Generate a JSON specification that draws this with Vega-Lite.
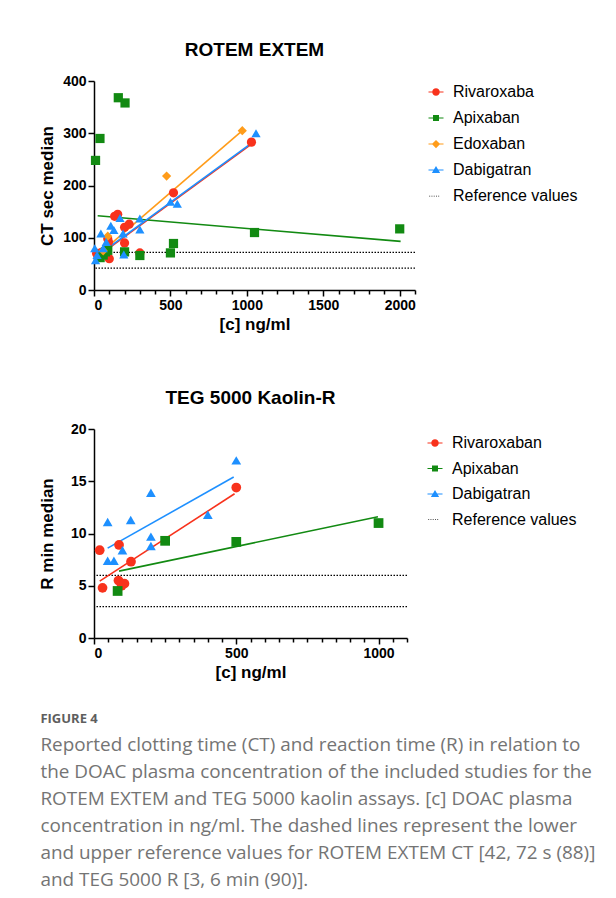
{
  "$schema": "https://vega.github.io/schema/vega-lite/v6.json",
  "padding": {"left": 38, "top": 41, "right": 5, "bottom": 5},
  "background": "white",
  "config": {
    "font": "Liberation Sans",
    "view": {"stroke": null},
    "axis": {
      "domainColor": "black", "domainWidth": 1.5, "tickColor": "black", "tickWidth": 1.5, "tickSize": 6,
      "labelFont": "Liberation Sans", "labelFontSize": 14, "labelFontWeight": "bold", "labelColor": "black", "labelPadding": 2,
      "titleFont": "Liberation Sans", "titleFontSize": 17, "titleFontWeight": "bold", "titleColor": "black", "grid": false
    },
    "title": {"font": "Liberation Sans", "fontSize": 19, "fontWeight": "bold", "color": "black"},
    "legend": {"labelFont": "Liberation Sans", "labelFontSize": 16, "labelColor": "black", "labelOffset": 9, "padding": 3}
  },
  "title": {
    "text": "FIGURE 4",
    "subtitle": [
      "Reported clotting time (CT) and reaction time (R) in relation to",
      "the DOAC plasma concentration of the included studies for the",
      "ROTEM EXTEM and TEG 5000 kaolin assays. [c] DOAC plasma",
      "concentration in ng/ml. The dashed lines represent the lower",
      "and upper reference values for ROTEM EXTEM CT [42, 72 s (88)]",
      "and TEG 5000 R [3, 6 min (90)]."
    ],
    "orient": "bottom", "anchor": "start", "frame": "bounds", "offset": 33, "dx": 2,
    "font": "Open Sans", "fontSize": 13, "fontWeight": "bold", "color": "#5e5e5e",
    "subtitleFont": "Open Sans", "subtitleFontSize": 18.9, "subtitleColor": "#747474", "subtitleLineHeight": 27, "subtitlePadding": 10
  },
  "datasets": {
    "rotem_points": [
      {"drug": "Rivaroxaban", "conc": 17, "value": 70}, {"drug": "Rivaroxaban", "conc": 35, "value": 70},
      {"drug": "Rivaroxaban", "conc": 50, "value": 72}, {"drug": "Rivaroxaban", "conc": 90, "value": 98},
      {"drug": "Rivaroxaban", "conc": 95, "value": 92}, {"drug": "Rivaroxaban", "conc": 100, "value": 60},
      {"drug": "Rivaroxaban", "conc": 135, "value": 141}, {"drug": "Rivaroxaban", "conc": 155, "value": 145},
      {"drug": "Rivaroxaban", "conc": 200, "value": 120}, {"drug": "Rivaroxaban", "conc": 230, "value": 126},
      {"drug": "Rivaroxaban", "conc": 200, "value": 90}, {"drug": "Rivaroxaban", "conc": 300, "value": 71},
      {"drug": "Rivaroxaban", "conc": 520, "value": 186}, {"drug": "Rivaroxaban", "conc": 1030, "value": 283},
      {"drug": "Apixaban", "conc": 10, "value": 248}, {"drug": "Apixaban", "conc": 39, "value": 290},
      {"drug": "Apixaban", "conc": 159, "value": 368}, {"drug": "Apixaban", "conc": 203, "value": 358},
      {"drug": "Apixaban", "conc": 1050, "value": 110}, {"drug": "Apixaban", "conc": 2000, "value": 117},
      {"drug": "Apixaban", "conc": 200, "value": 73}, {"drug": "Apixaban", "conc": 300, "value": 66},
      {"drug": "Apixaban", "conc": 500, "value": 71}, {"drug": "Apixaban", "conc": 520, "value": 89},
      {"drug": "Apixaban", "conc": 90, "value": 76}, {"drug": "Apixaban", "conc": 60, "value": 67},
      {"drug": "Apixaban", "conc": 40, "value": 62}, {"drug": "Apixaban", "conc": 75, "value": 73},
      {"drug": "Edoxaban", "conc": 60, "value": 75}, {"drug": "Edoxaban", "conc": 90, "value": 103},
      {"drug": "Edoxaban", "conc": 475, "value": 218}, {"drug": "Edoxaban", "conc": 970, "value": 305},
      {"drug": "Dabigatran", "conc": 5, "value": 80}, {"drug": "Dabigatran", "conc": 10, "value": 57},
      {"drug": "Dabigatran", "conc": 20, "value": 67}, {"drug": "Dabigatran", "conc": 45, "value": 108},
      {"drug": "Dabigatran", "conc": 60, "value": 80}, {"drug": "Dabigatran", "conc": 80, "value": 92},
      {"drug": "Dabigatran", "conc": 110, "value": 123}, {"drug": "Dabigatran", "conc": 130, "value": 115},
      {"drug": "Dabigatran", "conc": 170, "value": 138}, {"drug": "Dabigatran", "conc": 190, "value": 108},
      {"drug": "Dabigatran", "conc": 195, "value": 68}, {"drug": "Dabigatran", "conc": 300, "value": 137},
      {"drug": "Dabigatran", "conc": 300, "value": 116}, {"drug": "Dabigatran", "conc": 500, "value": 169},
      {"drug": "Dabigatran", "conc": 545, "value": 165}, {"drug": "Dabigatran", "conc": 1060, "value": 300}
    ],
    "rotem_fits": [
      {"drug": "Rivaroxaban", "conc": 60, "value": 72}, {"drug": "Rivaroxaban", "conc": 1030, "value": 279},
      {"drug": "Apixaban", "conc": 24, "value": 142}, {"drug": "Apixaban", "conc": 2006, "value": 93},
      {"drug": "Edoxaban", "conc": 61, "value": 76}, {"drug": "Edoxaban", "conc": 974, "value": 306},
      {"drug": "Dabigatran", "conc": 10, "value": 63}, {"drug": "Dabigatran", "conc": 1035, "value": 282}
    ],
    "rotem_refs": [
      {"drug": "Reference values", "value": 72}, {"drug": "Reference values", "value": 42}
    ],
    "teg_points": [
      {"drug": "Rivaroxaban", "conc": 20, "value": 8.4}, {"drug": "Rivaroxaban", "conc": 30, "value": 4.8},
      {"drug": "Rivaroxaban", "conc": 88, "value": 8.9}, {"drug": "Rivaroxaban", "conc": 86, "value": 5.5},
      {"drug": "Rivaroxaban", "conc": 97, "value": 5.0}, {"drug": "Rivaroxaban", "conc": 107, "value": 5.2},
      {"drug": "Rivaroxaban", "conc": 130, "value": 7.3}, {"drug": "Rivaroxaban", "conc": 500, "value": 14.4},
      {"drug": "Apixaban", "conc": 83, "value": 4.5}, {"drug": "Apixaban", "conc": 250, "value": 9.3},
      {"drug": "Apixaban", "conc": 500, "value": 9.2}, {"drug": "Apixaban", "conc": 1000, "value": 11.0},
      {"drug": "Dabigatran", "conc": 48, "value": 11.1}, {"drug": "Dabigatran", "conc": 48, "value": 7.4},
      {"drug": "Dabigatran", "conc": 70, "value": 7.4}, {"drug": "Dabigatran", "conc": 100, "value": 8.4},
      {"drug": "Dabigatran", "conc": 129, "value": 11.3}, {"drug": "Dabigatran", "conc": 200, "value": 13.9},
      {"drug": "Dabigatran", "conc": 200, "value": 9.7}, {"drug": "Dabigatran", "conc": 200, "value": 8.8},
      {"drug": "Dabigatran", "conc": 400, "value": 11.8}, {"drug": "Dabigatran", "conc": 500, "value": 17.0}
    ],
    "teg_fits": [
      {"drug": "Rivaroxaban", "conc": 20, "value": 5.45}, {"drug": "Rivaroxaban", "conc": 494, "value": 13.8},
      {"drug": "Apixaban", "conc": 88, "value": 6.4}, {"drug": "Apixaban", "conc": 998, "value": 11.6},
      {"drug": "Dabigatran", "conc": 48, "value": 8.6}, {"drug": "Dabigatran", "conc": 491, "value": 15.4}
    ],
    "teg_refs": [
      {"drug": "Reference values", "value": 6}, {"drug": "Reference values", "value": 3}
    ]
  },
  "columns": 1,
  "spacing": 57,
  "align": "none",
  "resolve": {"scale": {"color": "independent", "shape": "independent", "x": "independent", "y": "independent"}, "legend": {"color": "independent"}},
  "concat": [
    {
      "title": {"text": "ROTEM EXTEM", "offset": 14},
      "width": 321, "height": 209,
      "resolve": {"axis": {"x": "independent"}},
      "layer": [
        {
          "data": {"name": "rotem_refs"},
          "mark": {"type": "rule", "strokeDash": [1.5, 1.5], "strokeWidth": 1.2},
          "encoding": {
            "y": {"field": "value", "type": "quantitative"},
            "color": {"field": "drug", "type": "nominal"}
          }
        },
        {
          "data": {"name": "rotem_fits"},
          "mark": {"type": "line", "strokeWidth": 1.6},
          "encoding": {
            "x": {"field": "conc", "type": "quantitative", "scale": {"domain": [0, 2100], "nice": false},
                  "axis": {"title": "[c] ng/ml", "titlePadding": 4, "format": "d", "values": [0, 500, 1000, 1500, 2000]}},
            "y": {"field": "value", "type": "quantitative", "scale": {"domain": [0, 400], "nice": false},
                  "axis": {"title": "CT sec median", "values": [0, 100, 200, 300, 400], "titlePadding": 6}},
            "color": {
              "field": "drug", "type": "nominal",
              "scale": {"domain": ["Rivaroxaban", "Apixaban", "Edoxaban", "Dabigatran", "Reference values"],
                        "range": ["#f8321c", "#128a12", "#ff9c1a", "#1e90ff", "black"]},
              "legend": {
                "title": null, "orient": "right", "offset": 10, "rowPadding": 10,
                "labelExpr": "datum.label === 'Rivaroxaban' ? 'Rivaroxaba' : datum.label",
                "encode": {"symbols": {"update": {
                  "size": {"value": 225},
                  "strokeWidth": {"value": 0},
                  "opacity": {"value": 1},
                  "fill": {"signal": "datum.value === 'Rivaroxaban' ? '#f8321c' : datum.value === 'Apixaban' ? '#128a12' : datum.value === 'Edoxaban' ? '#ff9c1a' : datum.value === 'Dabigatran' ? '#1e90ff' : '#222222'"},
                  "shape": {"signal": "datum.value === 'Rivaroxaban' ? 'M -1 -0.07 H 1 V 0.07 H -1 Z M -0.5 0 A 0.5 0.5 0 1 1 0.5 0 A 0.5 0.5 0 1 1 -0.5 0 Z' : datum.value === 'Apixaban' ? 'M -1 -0.07 H 1 V 0.07 H -1 Z M -0.4 -0.4 H 0.4 V 0.4 H -0.4 Z' : datum.value === 'Edoxaban' ? 'M -1 -0.07 H 1 V 0.07 H -1 Z M 0 -0.55 L 0.55 0 L 0 0.55 L -0.55 0 Z' : datum.value === 'Dabigatran' ? 'M -1 -0.07 H 1 V 0.07 H -1 Z M 0 -0.55 L 0.55 0.4 L -0.55 0.4 Z' : 'M -0.9 -0.05 h 0.12 v 0.1 h -0.12 Z M -0.6 -0.05 h 0.12 v 0.1 h -0.12 Z M -0.3 -0.05 h 0.12 v 0.1 h -0.12 Z M 0 -0.05 h 0.12 v 0.1 h -0.12 Z M 0.3 -0.05 h 0.12 v 0.1 h -0.12 Z'"}
                }}}
              }
            },
            "detail": {"field": "drug"}
          }
        },
        {
          "data": {"name": "rotem_points"},
          "mark": {"type": "point", "filled": true, "opacity": 1, "size": 85},
          "encoding": {
            "x": {"field": "conc", "type": "quantitative",
                  "axis": {"orient": "bottom", "labels": false, "title": null, "domain": false, "grid": false, "tickSize": 4, "tickWidth": 1.5,
                           "values": [100, 200, 300, 400, 600, 700, 800, 900, 1100, 1200, 1300, 1400, 1600, 1700, 1800, 1900, 2100]}},
            "y": {"field": "value", "type": "quantitative"},
            "color": {"field": "drug", "type": "nominal"},
            "shape": {"field": "drug", "type": "nominal", "legend": null,
                      "scale": {"domain": ["Rivaroxaban", "Apixaban", "Edoxaban", "Dabigatran"], "range": ["circle", "square", "diamond", "triangle-up"]}}
          }
        }
      ]
    },
    {
      "title": {"text": "TEG 5000 Kaolin-R", "offset": 14},
      "width": 313, "height": 209,
      "resolve": {"axis": {"x": "independent"}},
      "layer": [
        {
          "data": {"name": "teg_refs"},
          "mark": {"type": "rule", "strokeDash": [1.5, 1.5], "strokeWidth": 1.2},
          "encoding": {
            "y": {"field": "value", "type": "quantitative"},
            "color": {"field": "drug", "type": "nominal"}
          }
        },
        {
          "data": {"name": "teg_fits"},
          "mark": {"type": "line", "strokeWidth": 1.6},
          "encoding": {
            "x": {"field": "conc", "type": "quantitative", "scale": {"domain": [0, 1100], "nice": false},
                  "axis": {"title": "[c] ng/ml", "titlePadding": 4, "format": "d", "values": [0, 500, 1000]}},
            "y": {"field": "value", "type": "quantitative", "scale": {"domain": [0, 20], "nice": false},
                  "axis": {"title": "R min median", "values": [0, 5, 10, 15, 20], "titlePadding": 14}},
            "color": {
              "field": "drug", "type": "nominal",
              "scale": {"domain": ["Rivaroxaban", "Apixaban", "Dabigatran", "Reference values"],
                        "range": ["#f8321c", "#128a12", "#1e90ff", "black"]},
              "legend": {
                "title": null, "orient": "right", "offset": 14, "rowPadding": 9.5, "padding": 6,
                "encode": {"symbols": {"update": {
                  "size": {"value": 225},
                  "strokeWidth": {"value": 0},
                  "opacity": {"value": 1},
                  "fill": {"signal": "datum.value === 'Rivaroxaban' ? '#f8321c' : datum.value === 'Apixaban' ? '#128a12' : datum.value === 'Dabigatran' ? '#1e90ff' : '#222222'"},
                  "shape": {"signal": "datum.value === 'Rivaroxaban' ? 'M -1 -0.07 H 1 V 0.07 H -1 Z M -0.5 0 A 0.5 0.5 0 1 1 0.5 0 A 0.5 0.5 0 1 1 -0.5 0 Z' : datum.value === 'Apixaban' ? 'M -1 -0.07 H 1 V 0.07 H -1 Z M -0.4 -0.4 H 0.4 V 0.4 H -0.4 Z' : datum.value === 'Dabigatran' ? 'M -1 -0.07 H 1 V 0.07 H -1 Z M 0 -0.55 L 0.55 0.4 L -0.55 0.4 Z' : 'M -0.9 -0.05 h 0.12 v 0.1 h -0.12 Z M -0.6 -0.05 h 0.12 v 0.1 h -0.12 Z M -0.3 -0.05 h 0.12 v 0.1 h -0.12 Z M 0 -0.05 h 0.12 v 0.1 h -0.12 Z M 0.3 -0.05 h 0.12 v 0.1 h -0.12 Z'"}
                }}}
              }
            },
            "detail": {"field": "drug"}
          }
        },
        {
          "data": {"name": "teg_points"},
          "mark": {"type": "point", "filled": true, "opacity": 1, "size": 95},
          "encoding": {
            "x": {"field": "conc", "type": "quantitative",
                  "axis": {"orient": "bottom", "labels": false, "title": null, "domain": false, "grid": false, "tickSize": 4, "tickWidth": 1.5,
                           "values": [50, 100, 150, 200, 250, 300, 350, 400, 450, 550, 600, 650, 700, 750, 800, 850, 900, 950, 1050, 1100]}},
            "y": {"field": "value", "type": "quantitative"},
            "color": {"field": "drug", "type": "nominal"},
            "shape": {"field": "drug", "type": "nominal", "legend": null,
                      "scale": {"domain": ["Rivaroxaban", "Apixaban", "Dabigatran"], "range": ["circle", "square", "triangle-up"]}}
          }
        }
      ]
    }
  ]
}
